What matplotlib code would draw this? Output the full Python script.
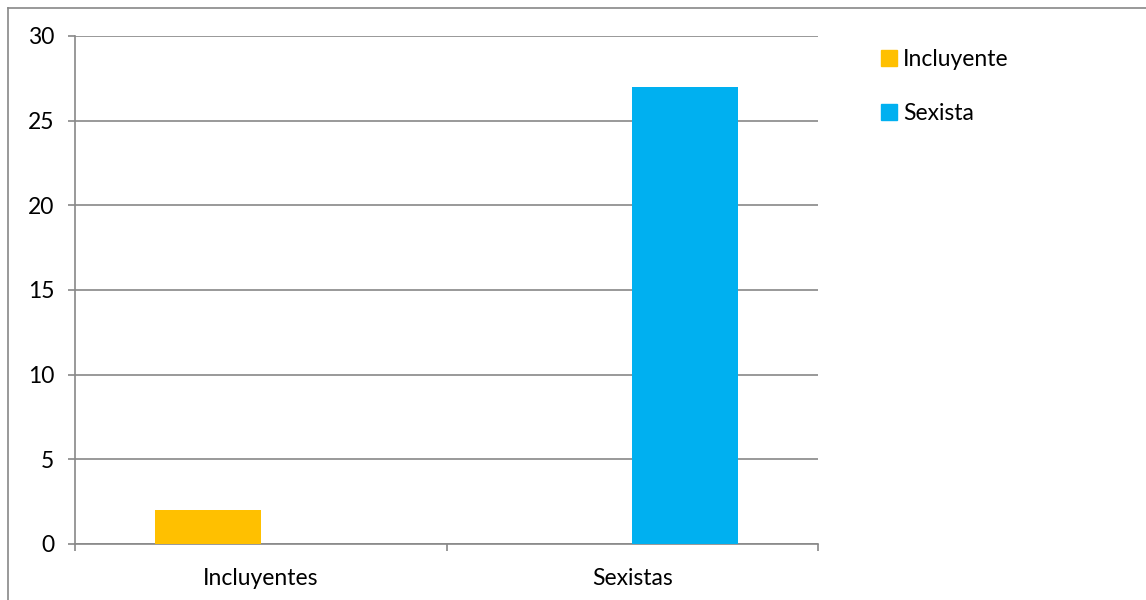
import numpy as np
import matplotlib.pyplot as plt
from matplotlib.lines import Line2D

plt.rcParams['font.family'] = ['Lato', 'DejaVu Sans']

categories = ['Incluyentes', 'Sexistas']
series_names = ['Incluyente', 'Sexista']
incluyente = [2, 0]
sexista = [0, 27]
colors = ['#FFC000', '#00B0F0']
grid_col = '#888888'
fs = 16.5

fig = plt.figure(figsize=(11.46, 6), dpi=100)
ax = fig.add_axes([75/1146, 1-544/600, (818-75)/1146, (544-36)/600])

x = np.arange(len(categories))
w = 106/371.5
ax.bar(x - w/2, incluyente, w, color=colors[0], label=series_names[0], zorder=3)
ax.bar(x + w/2, sexista, w, color=colors[1], label=series_names[1], zorder=3)

ax.set_xlim(-0.5, 1.5)
ax.set_ylim(0, 30)
ax.set_yticks(range(0, 31, 5))
ax.yaxis.grid(True, color=grid_col, linewidth=1.2, zorder=0)
ax.set_xticks([-0.5, 0.5, 1.5])
ax.set_xticklabels([])
ax.set_xticks(x, minor=True)
ax.set_xticklabels(categories, minor=True)
ax.tick_params(axis='x', which='minor', length=0, pad=17, labelsize=fs)
ax.tick_params(axis='x', which='major', length=5, color=grid_col, width=1.2)
ax.tick_params(axis='y', length=5, color=grid_col, width=1.2, labelsize=fs, pad=10)

for s in ['top', 'right']:
    ax.spines[s].set_visible(False)
for s in ['left', 'bottom']:
    ax.spines[s].set_color(grid_col)
    ax.spines[s].set_linewidth(1.2)

handles = [Line2D([], [], marker='s', linestyle='none', markersize=11,
                  markerfacecolor=c, markeredgecolor=c) for c in colors]
fig.legend(handles, series_names, loc='upper left', bbox_to_anchor=(855/1146, 1-28/600),
           frameon=False, fontsize=fs, handletextpad=0.0, labelspacing=1.45,
           handlelength=1.2)

# outer frame (top and left edges visible)
fig.add_artist(Line2D([8/1146, 1], [1-8/600, 1-8/600], color=grid_col, linewidth=1.2))
fig.add_artist(Line2D([8/1146, 8/1146], [0, 1-8/600], color=grid_col, linewidth=1.2))

fig.savefig('out.png', dpi=100)
